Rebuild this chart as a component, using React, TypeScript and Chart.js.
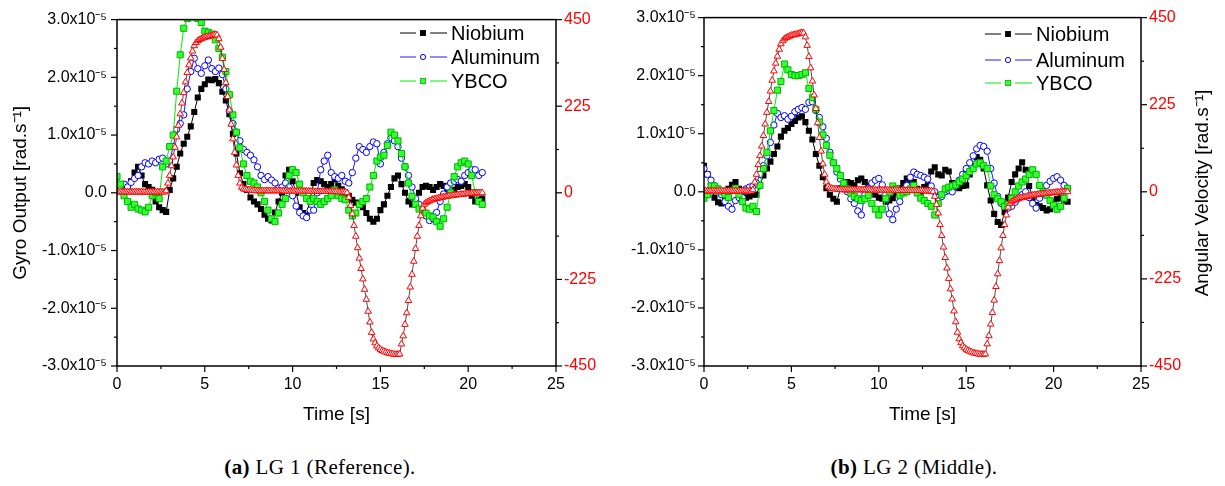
import React, { useEffect, useRef } from 'react';
import { Chart, registerables } from 'chart.js';

Chart.register(...registerables);

const FONT = "'Liberation Sans', Arial, sans-serif";
const SERIF = "'Liberation Serif', 'Times New Roman', serif";

// sampling steps [s]
const TIME_STEP_GYRO = 0.2;
const TIME_STEP_RATE = 0.1;

// Gyro output, units of 1e-5 rad/s, t = 0 ... 20.8 s every 0.2 s
const niobiumLG1 = [
  0.15, 0.05, 0.0, 0.1, 0.2, 0.35, 0.45, 0.3, 0.15, 0.1,
  0.05, -0.15, -0.25, -0.3, -0.33, 0.05, 0.25, 0.45, 0.68, 0.85,
  0.97, 1.15, 1.4, 1.65, 1.8, 1.88, 1.96, 1.95, 1.97, 1.9,
  1.75, 1.6, 1.36, 1.02, 0.68, 0.34, 0.15, 0.05, -0.08, -0.15,
  -0.2, -0.28, -0.38, -0.45, -0.48, -0.34, -0.15, 0.0, 0.3, 0.4,
  0.2, 0.0, -0.25, -0.35, -0.4, -0.1, 0.17, 0.22, 0.2, 0.15,
  0.1, 0.15, 0.23, 0.12, 0.06, 0.0, -0.05, -0.12, -0.17, -0.2,
  -0.25, -0.35, -0.45, -0.5, -0.45, -0.3, -0.2, -0.05, 0.1, 0.25,
  0.3, 0.15, 0.0, -0.15, -0.2, -0.15, 0.0, 0.1, 0.12, 0.1,
  0.05, 0.1, 0.15, 0.12, 0.05, 0.0, 0.05, 0.1, 0.12, 0.15,
  0.1, -0.05, -0.15, -0.12, -0.1,
];
const aluminumLG1 = [
  0.15, 0.1, 0.15, 0.1, 0.18, 0.25, 0.3, 0.45, 0.52, 0.5,
  0.55, 0.52, 0.58, 0.6, 0.5, 0.55, 0.8, 1.1, 1.2, 1.35,
  1.8, 2.1, 2.33, 2.15, 2.07, 2.2, 2.3, 2.15, 2.1, 2.16,
  2.05, 1.8, 1.42, 1.2, 1.05, 0.9, 0.75, 0.7, 0.65, 0.57,
  0.45, 0.3, 0.23, 0.28, 0.22, 0.17, 0.08, 0.1, 0.17, 0.1,
  -0.05, -0.23, -0.34, -0.4, -0.43, -0.3, -0.3, 0.0, 0.4, 0.55,
  0.65, 0.35, 0.28, 0.25, 0.3, 0.2, 0.17, 0.35, 0.6, 0.8,
  0.75, 0.7, 0.8, 0.88, 0.85, 0.5, 0.7, 0.85, 0.95, 0.9,
  0.8, 0.6, 0.45, 0.3, 0.1, -0.1, -0.2, -0.28, -0.4, -0.48,
  -0.45, -0.34, -0.15, -0.02, 0.1, 0.17, 0.2, 0.23, 0.2, 0.3,
  0.35, 0.4, 0.4, 0.3, 0.35,
];
const ybcoLG1 = [
  0.28, 0.15, -0.05, -0.15, -0.25, -0.2, -0.28, -0.3, -0.33, -0.25,
  -0.05, 0.0, -0.1, 0.45, 0.55, 0.8, 1.0, 1.76, 2.39, 2.85,
  3.02, 3.05, 3.05, 3.02, 2.95, 2.8, 2.78, 2.75, 2.65, 2.5,
  2.35, 2.1, 1.7, 1.35, 1.05, 0.78, 0.5, 0.3, 0.2, 0.17,
  0.1, 0.0, -0.15, -0.3, -0.45, -0.5, -0.35, -0.2, -0.1, 0.3,
  0.4, 0.35, 0.15, 0.0, -0.1, -0.15, -0.1, -0.15, -0.2, -0.15,
  -0.1, -0.05, 0.05, -0.05, -0.1, -0.12, -0.3, -0.4, -0.35, -0.2,
  -0.15, -0.1, 0.1, 0.3, 0.55, 0.62, 0.65, 0.82, 1.05, 1.0,
  0.9, 0.68, 0.45, 0.17, -0.06, -0.2, -0.28, -0.3, -0.35, -0.4,
  -0.42, -0.5, -0.58, -0.45, -0.25, 0.0, 0.28, 0.45, 0.52, 0.55,
  0.5, 0.3, 0.0, -0.15, -0.2,
];

const niobiumLG2 = [
  0.45, 0.3, 0.1, -0.1, -0.18, -0.2, -0.15, 0.05, 0.12, 0.17,
  0.05, -0.05, -0.1, -0.08, -0.05, -0.05, 0.11, 0.28, 0.4, 0.52,
  0.65, 0.78, 0.95, 1.05, 1.1, 1.17, 1.22, 1.28, 1.3, 1.2,
  1.05, 0.9, 0.65, 0.45, 0.25, 0.06, -0.05, -0.12, -0.17, 0.06,
  0.1, 0.17, 0.15, 0.11, 0.2, 0.23, 0.17, 0.1, 0.02, -0.05,
  -0.1, -0.12, -0.17, -0.15, -0.11, -0.02, 0.06, 0.15, 0.23, 0.2,
  0.17, 0.05, 0.0, 0.08, 0.11, 0.35, 0.42, 0.3, 0.28, 0.38,
  0.35, 0.15, 0.08, 0.06, 0.1, 0.11, 0.3, 0.45, 0.6, 0.55,
  0.4, 0.11, -0.15, -0.38, -0.52, -0.57, -0.35, -0.1, 0.17, 0.3,
  0.4, 0.51, 0.38, 0.1, -0.1, -0.23, -0.25, -0.28, -0.32, -0.3,
  -0.17, -0.12, -0.11, -0.15, -0.17,
];
const aluminumLG2 = [
  0.4, 0.3, 0.2, 0.1, 0.05, -0.05, -0.17, -0.25, -0.3, -0.15,
  -0.1, -0.1, 0.05, 0.08, 0.1, 0.15, 0.3, 0.45, 0.62, 0.85,
  1.15, 1.35, 1.28, 1.31, 1.25, 1.3, 1.38, 1.42, 1.45, 1.42,
  1.54, 1.55, 1.4, 1.28, 1.12, 0.92, 0.68, 0.5, 0.34, 0.22,
  0.1, 0.0, -0.12, -0.2, -0.33, -0.4, -0.05, 0.06, 0.15, 0.2,
  0.23, 0.12, -0.05, -0.38, -0.48, -0.3, -0.17, 0.0, 0.11, 0.25,
  0.34, 0.3, 0.28, 0.25, 0.22, 0.1, 0.0, -0.1, -0.08, 0.0,
  0.02, 0.0, 0.1, 0.2, 0.3, 0.4, 0.5, 0.62, 0.74, 0.8,
  0.78, 0.7, 0.4, 0.15, -0.08, -0.2, -0.25, -0.28, -0.25, -0.18,
  -0.11, -0.05, 0.0, -0.1, -0.2, -0.28, -0.11, 0.0, 0.11, 0.18,
  0.23, 0.26, 0.2, 0.11, 0.06,
];
const ybcoLG2 = [
  -0.11, -0.05, 0.1, 0.1, 0.05, 0.0, -0.05, -0.1, 0.02, 0.06,
  -0.05, -0.17, -0.28, -0.3, -0.25, -0.34, 0.11, 0.4, 0.68, 1.05,
  1.4, 1.75, 1.9, 2.2, 2.1, 2.02, 2.0, 2.0, 2.02, 2.05,
  1.78, 1.62, 1.42, 1.2, 0.98, 0.8, 0.63, 0.5, 0.4, 0.28,
  0.15, 0.05, -0.02, -0.08, -0.12, -0.15, -0.12, -0.06, -0.2, -0.3,
  -0.4, -0.3, -0.12, 0.0, 0.1, 0.05, -0.06, -0.02, 0.0, 0.05,
  0.11, -0.02, -0.11, -0.15, -0.2, -0.25, -0.4, -0.2, -0.05, 0.05,
  0.08, 0.1, 0.12, 0.17, 0.22, 0.28, 0.35, 0.4, 0.48, 0.5,
  0.45, 0.4, 0.1, -0.05, -0.12, -0.17, -0.25, -0.22, -0.11, 0.0,
  0.1, 0.17, 0.22, 0.3, 0.38, 0.3, 0.11, 0.0, -0.06, -0.15,
  -0.23, -0.3, -0.25, -0.11, 0.06,
];

// Angular velocity, t = 0 ... 20.8 s every 0.1 s
const angularVelocity = [
  2, 2, 2, 2, 2, 2, 2, 2, 2, 2,
  2, 2, 2, 2, 2, 2, 2, 2, 2, 2,
  2, 2, 2, 2, 2, 2, 2, 2, 5, 25,
  45, 70, 93, 118, 145, 175, 205, 233, 260, 288,
  312, 332, 350, 368, 382, 390, 395, 398, 400, 402,
  404, 405, 406, 407, 408, 410, 411, 410, 400, 378,
  349, 320, 286, 250, 215, 178, 140, 105, 72, 45,
  25, 14, 10, 9, 8, 7, 7, 6, 6, 5,
  5, 5, 5, 5, 5, 5, 5, 5, 5, 5,
  5, 5, 5, 5, 5, 5, 4, 4, 4, 4,
  4, 4, 4, 4, 4, 4, 4, 4, 4, 4,
  4, 3, 3, 3, 3, 3, 3, 3, 3, 3,
  3, 3, 3, 3, 3, 3, 2, 2, 2, 2,
  2, 0, -12, -33, -55, -85, -113, -143, -170, -197,
  -224, -251, -277, -308, -336, -363, -380, -390, -398, -403,
  -407, -410, -412, -414, -416, -417, -418, -419, -420, -420,
  -420, -419, -393, -372, -342, -312, -280, -245, -212, -178,
  -145, -113, -85, -60, -40, -30, -26, -23, -21, -19,
  -17, -16, -15, -14, -13, -12, -11, -10, -9, -8,
  -8, -7, -6, -6, -5, -5, -4, -4, -3, -3,
  -2, -2, -1, -1, -1, 0, 0, 0, 0,
];

const X_MAJOR = [0, 5, 10, 15, 20, 25];
const X_MINOR = [2.5, 7.5, 12.5, 17.5, 22.5];
const GYRO_MAJOR = [-3, -2, -1, 0, 1, 2, 3];
const GYRO_MINOR = [-2.5, -1.5, -0.5, 0.5, 1.5, 2.5];
const RATE_MAJOR = [-450, -225, 0, 225, 450];
const RATE_MINOR = [-337.5, -112.5, 112.5, 337.5];

const toPoints = (vals: number[], step: number) =>
  vals.map((v, i) => ({ x: Math.round(i * step * 100) / 100, y: v }));

const axisDecor = {
  id: 'axisDecor',
  afterDraw(chart: any) {
    const { ctx, chartArea: a, scales } = chart;
    ctx.save();
    ctx.strokeStyle = '#000';
    ctx.lineWidth = 1.2;
    const seg = (x1: number, y1: number, x2: number, y2: number) => {
      ctx.beginPath();
      ctx.moveTo(x1, y1);
      ctx.lineTo(x2, y2);
      ctx.stroke();
    };
    X_MAJOR.forEach((v) => { const p = scales.x.getPixelForValue(v); seg(p, a.bottom, p, a.bottom + 6); });
    X_MINOR.forEach((v) => { const p = scales.x.getPixelForValue(v); seg(p, a.bottom, p, a.bottom + 3); });
    GYRO_MAJOR.forEach((v) => { const p = scales.y.getPixelForValue(v); seg(a.left - 6, p, a.left, p); });
    GYRO_MINOR.forEach((v) => { const p = scales.y.getPixelForValue(v); seg(a.left - 3, p, a.left, p); });
    RATE_MAJOR.forEach((v) => { const p = scales.y1.getPixelForValue(v); seg(a.right, p, a.right + 6, p); });
    RATE_MINOR.forEach((v) => { const p = scales.y1.getPixelForValue(v); seg(a.right, p, a.right + 3, p); });
    ctx.lineWidth = 1.5;
    ctx.strokeRect(a.left, a.top, a.right - a.left, a.bottom - a.top);
    ctx.restore();
  },
};

const seriesLegend = {
  id: 'seriesLegend',
  afterDraw(chart: any, _args: any, opts: any) {
    if (!opts || !opts.rows) return;
    const ctx = chart.ctx;
    const mx = opts.markerX;
    const items = chart.data.datasets.filter((d: any) => d.inLegend);
    ctx.save();
    items.forEach((ds: any, i: number) => {
      const y = opts.rows[i];
      ctx.strokeStyle = ds.borderColor;
      ctx.lineWidth = 1;
      ctx.beginPath();
      ctx.moveTo(mx - 23, y); ctx.lineTo(mx - 7, y);
      ctx.moveTo(mx + 7, y); ctx.lineTo(mx + 24, y);
      ctx.stroke();
      if (ds.pointStyle === 'circle') {
        ctx.beginPath();
        ctx.arc(mx, y, 2.6, 0, Math.PI * 2);
        ctx.fillStyle = ds.pointBackgroundColor;
        ctx.fill();
        ctx.strokeStyle = ds.pointBorderColor;
        ctx.stroke();
      } else {
        ctx.fillStyle = ds.pointBackgroundColor;
        ctx.fillRect(mx - 2.6, y - 2.6, 5.2, 5.2);
        ctx.strokeStyle = ds.pointBorderColor;
        ctx.lineWidth = 0.8;
        ctx.strokeRect(mx - 2.6, y - 2.6, 5.2, 5.2);
      }
      ctx.fillStyle = '#000';
      ctx.font = `20px ${FONT}`;
      ctx.textAlign = 'left';
      ctx.textBaseline = 'middle';
      ctx.fillText(ds.label, mx + 28, y + 1);
    });
    ctx.restore();
  },
};

const rightTitle = {
  id: 'rightTitle',
  afterDraw(chart: any, _args: any, opts: any) {
    if (!opts || !opts.text) return;
    const ctx = chart.ctx;
    ctx.save();
    ctx.translate(opts.x, opts.y);
    ctx.rotate(-Math.PI / 2);
    ctx.fillStyle = '#000';
    ctx.font = `19px ${FONT}`;
    ctx.textAlign = 'center';
    ctx.textBaseline = 'middle';
    ctx.fillText(opts.text, 0, 0);
    ctx.restore();
  },
};

type PanelSpec = {
  niobium: number[];
  aluminum: number[];
  ybco: number[];
  rate: number[];
  width: number;
  leftWidth: number;
  rightWidth: number;
  leftTitle: boolean;
  legendX: number;
  legendRows: number[];
  rightTitle: null | { text: string; x: number; y: number };
  leftPad: number;
};

const CANVAS_H = 440;

function buildConfig(p: PanelSpec): any {
  const tickFont = { family: FONT, size: 16 };
  return {
    type: 'line',
    data: {
      datasets: [
        {
          label: 'Angular Velocity', inLegend: false, yAxisID: 'y1',
          data: toPoints(p.rate, TIME_STEP_RATE),
          borderColor: '#222', borderWidth: 0.8,
          pointStyle: 'triangle', pointRadius: 3.8,
          pointBackgroundColor: '#ffffff', pointBorderColor: '#ff0000', pointBorderWidth: 1,
          order: 0,
        },
        {
          label: 'Niobium', inLegend: true, yAxisID: 'y',
          data: toPoints(p.niobium, TIME_STEP_GYRO),
          borderColor: '#000000', borderWidth: 1,
          pointStyle: 'rect', pointRadius: 4.3,
          pointBackgroundColor: '#000000', pointBorderColor: '#000000', pointBorderWidth: 0,
          order: 3,
        },
        {
          label: 'Aluminum', inLegend: true, yAxisID: 'y',
          data: toPoints(p.aluminum, TIME_STEP_GYRO),
          borderColor: '#1a1aff', borderWidth: 1,
          pointStyle: 'circle', pointRadius: 3.2,
          pointBackgroundColor: '#ffffff', pointBorderColor: '#0000ff', pointBorderWidth: 1,
          order: 2,
        },
        {
          label: 'YBCO', inLegend: true, yAxisID: 'y',
          data: toPoints(p.ybco, TIME_STEP_GYRO),
          borderColor: '#00ee00', borderWidth: 1,
          pointStyle: 'rect', pointRadius: 4.3,
          pointBackgroundColor: '#33ff33', pointBorderColor: '#00b400', pointBorderWidth: 1,
          order: 1,
        },
      ],
    },
    options: {
      responsive: false,
      animation: false,
      events: [],
      layout: { padding: { top: 14, left: 0, right: 0, bottom: 0 } },
      plugins: {
        legend: { display: false },
        tooltip: { enabled: false },
        seriesLegend: { markerX: p.legendX, rows: p.legendRows },
        rightTitle: p.rightTitle || {},
      },
      scales: {
        x: {
          type: 'linear', min: 0, max: 25,
          grid: { display: false, drawTicks: false },
          border: { display: false },
          ticks: { stepSize: 5, padding: 9, color: '#000', font: tickFont, maxRotation: 0, callback: (v: any) => String(v) },
          title: { display: true, text: 'Time [s]', color: '#000', font: { family: FONT, size: 19 }, padding: { top: 0, bottom: 14 } },
          afterFit: (s: any) => { s.height = 74; },
        },
        y: {
          position: 'left', min: -3, max: 3,
          grid: { display: false, drawTicks: false },
          border: { display: false },
          ticks: {
            stepSize: 1, padding: p.leftPad, color: '#000', font: tickFont,
            callback: (v: any) => {
              const n = Number(v);
              if (Math.abs(n) < 1e-9) return '0.0';
              return `${n.toFixed(1)}x10\u207B\u2075`;
            },
          },
          title: { display: p.leftTitle, text: 'Gyro Output [rad.s\u207B\u00B9]', color: '#000', font: { family: FONT, size: 19 }, padding: { top: 9, bottom: 0 } },
          afterFit: (s: any) => { s.width = p.leftWidth; },
        },
        y1: {
          position: 'right', min: -450, max: 450,
          grid: { display: false, drawTicks: false },
          border: { display: false },
          ticks: { stepSize: 225, padding: 8, color: '#ff0000', font: tickFont, callback: (v: any) => String(v) },
          afterFit: (s: any) => { s.width = p.rightWidth; },
        },
      },
    },
    plugins: [axisDecor, seriesLegend, rightTitle],
  };
}

function Panel({ spec, left }: { spec: PanelSpec; left: number }) {
  const ref = useRef<HTMLCanvasElement | null>(null);
  useEffect(() => {
    if (!ref.current) return;
    const chart = new Chart(ref.current, buildConfig(spec));
    return () => chart.destroy();
  }, [spec]);
  return (
    <canvas
      ref={ref}
      width={spec.width}
      height={CANVAS_H}
      style={{ position: 'absolute', left, top: 0, width: spec.width, height: CANVAS_H, display: 'block' }}
    />
  );
}

const panelA: PanelSpec = {
  niobium: niobiumLG1, aluminum: aluminumLG1, ybco: ybcoLG1, rate: angularVelocity,
  width: 612, leftWidth: 117, rightWidth: 56, leftTitle: true,
  legendX: 423, legendRows: [33, 57, 81], rightTitle: null, leftPad: 10,
};
const panelB: PanelSpec = {
  niobium: niobiumLG2, aluminum: aluminumLG2, ybco: ybcoLG2, rate: angularVelocity,
  width: 613, leftWidth: 92, rightWidth: 84, leftTitle: false,
  legendX: 396, legendRows: [34, 60, 83],
  rightTitle: { text: 'Angular Velocity [rad.s\u207B\u00B9]', x: 591, y: 193 }, leftPad: 8,
};

export default function App() {
  const capStyle: React.CSSProperties = {
    position: 'absolute', top: 453, width: 400, textAlign: 'center',
    fontFamily: SERIF, fontSize: 21, letterSpacing: '0.4px', color: '#000', lineHeight: '28px',
  };
  return (
    <div style={{ position: 'absolute', left: 0, top: 0, width: 1225, height: 486, background: '#fff', overflow: 'hidden' }}>
      <Panel spec={panelA} left={0} />
      <Panel spec={panelB} left={612} />
      <div style={{ ...capStyle, left: 120 }}><b>(a)</b> LG 1 (Reference).</div>
      <div style={{ ...capStyle, left: 714 }}><b>(b)</b> LG 2 (Middle).</div>
    </div>
  );
}
